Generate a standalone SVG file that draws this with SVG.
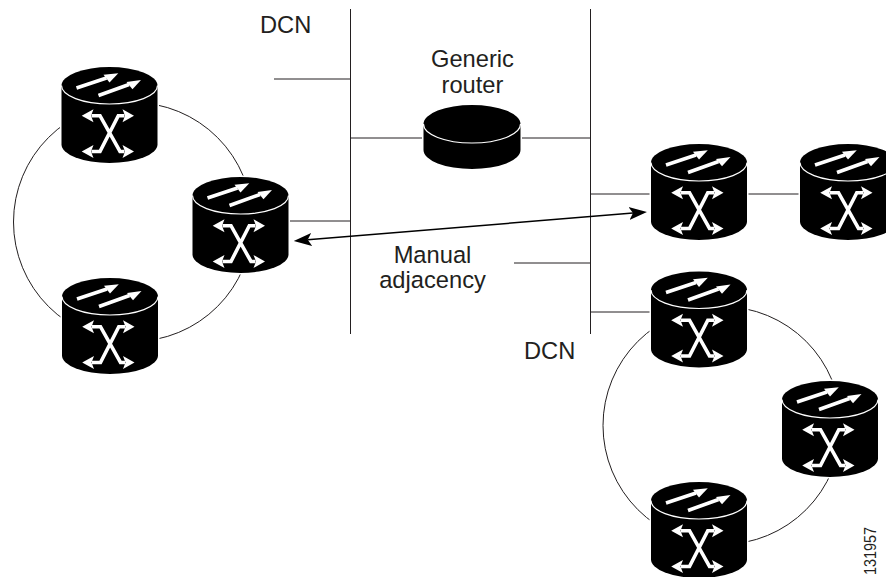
<svg xmlns="http://www.w3.org/2000/svg" width="886" height="577" viewBox="0 0 886 577">
<style>
text{font-family:"Liberation Sans",Arial,sans-serif;font-size:23.7px;fill:#231f20}
.l{fill:none;stroke:#231f20;stroke-width:1}
.a{fill:none;stroke:#000;stroke-width:1.5}
.b{fill:#000;stroke:#fff;stroke-width:3;paint-order:stroke}
.w{fill:none;stroke:#fff;stroke-width:3.6}
.t{fill:none;stroke:#fff;stroke-width:1.2}
.h{fill:#fff}
</style>
<defs>
<marker id="a" viewBox="0 0 18 14" refX="4" refY="7" markerWidth="18" markerHeight="14" markerUnits="userSpaceOnUse" orient="auto-start-reverse"><path d="M0 0.5L18 7L0 13.5L4 7Z" fill="#000"/></marker>
<g id="sw">
<path class="b" d="M-48 0A48 18.5 0 0 1 48 0V59A48 18.5 0 0 1 -48 59Z"/>
<path class="t" d="M-48 0A48 18.5 0 0 0 48 0"/>
<path class="w" d="M-33 2.5L-3 -7.5M-11 10L19.5 -1"/>
<polygon class="h" points="8.8,-12.2 -6,-10.8 0,-3"/>
<polygon class="h" points="31.5,-5.5 17,-3.5 23,3.7"/>
<path class="w" d="M-18 30.2H-9.5L10.5 66H15M15 30.2H8.8L-9.5 66H-18"/>
<polygon class="h" points="-27.8,30.2 -16,23.7 -18.5,30.2 -16,36.7"/>
<polygon class="h" points="24.5,30.2 13,23.7 15.5,30.2 13,36.7"/>
<polygon class="h" points="-27.8,66 -16,59.5 -18.5,66 -16,72.5"/>
<polygon class="h" points="24.5,66 13,59.5 15.5,66 13,72.5"/>
</g>
</defs>
<g id="connectors">
<path class="l" d="M350.5 9V334M590.5 9V334"/>
<path class="l" d="M274 79H350M350 138H424M521 138H590M289 221H350M590 194H651M747 194H800M514 263H590M590 312H651"/>
<circle class="l" cx="133" cy="222" r="119.5"/>
<circle class="l" cx="722" cy="425.5" r="119"/>
<path class="a" marker-start="url(#a)" marker-end="url(#a)" d="M307.7 239.8L633 213.1"/>
</g>
<g id="router1"><use href="#sw" x="109.5" y="85.5"/></g>
<g id="router2"><use href="#sw" x="240.5" y="195.5"/></g>
<g id="router3"><use href="#sw" x="110" y="296.5"/></g>
<g id="router4"><use href="#sw" x="699" y="162.5"/></g>
<g id="router5"><use href="#sw" x="848" y="162.5"/></g>
<g id="router6"><use href="#sw" x="699" y="290"/></g>
<g id="router7"><use href="#sw" x="830" y="399.5"/></g>
<g id="router8"><use href="#sw" x="699" y="500.5"/></g>
<g id="generic-router">
<path class="b" d="M423.5 124A48.5 19 0 0 1 520.5 124V150A48.5 19 0 0 1 423.5 150Z"/>
<path class="t" d="M423.5 124A48.5 19 0 0 0 520.5 124"/>
</g>
<g id="labels">
<text x="260" y="33">DCN</text>
<text x="472.5" y="67" text-anchor="middle">Generic</text>
<text x="472.5" y="93" text-anchor="middle">router</text>
<text x="432.5" y="263" text-anchor="middle">Manual</text>
<text x="432.5" y="288" text-anchor="middle">adjacency</text>
<text x="524" y="359">DCN</text>
<text transform="translate(876 575) rotate(-90)" style="font-size:16px" textLength="48" lengthAdjust="spacingAndGlyphs">131957</text>
</g>
</svg>
